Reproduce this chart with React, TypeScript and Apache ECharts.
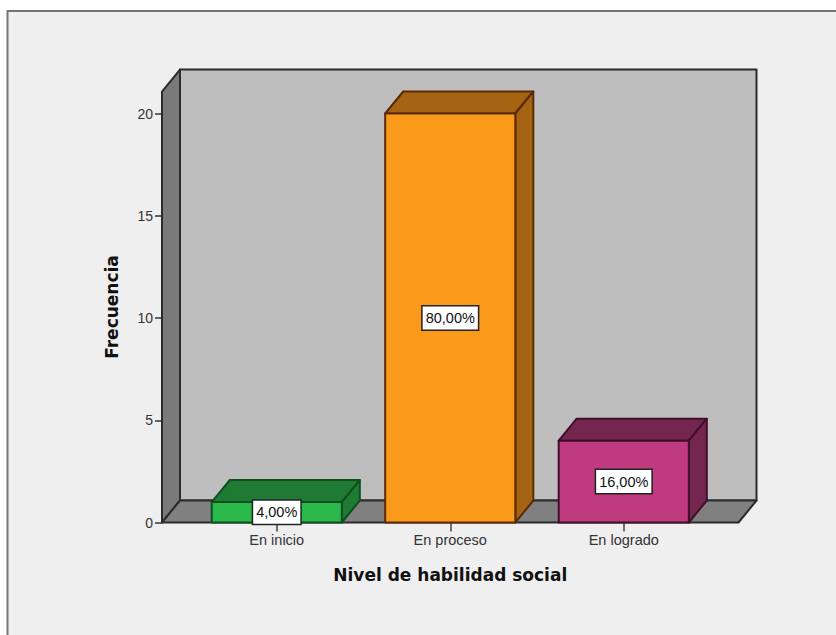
import React, { useEffect, useRef } from "react";
import * as echarts from "echarts";

const categories = ["En inicio", "En proceso", "En logrado"];
const frequencies = [1, 20, 4];
const percentLabels = ["4,00%", "80,00%", "16,00%"];
const wallTopValue = [21.07];
const yAxisMax = 20;
const yAxisInterval = 5;
const xAxisTitle = "Nivel de habilidad social";
const yAxisTitle = "Frecuencia";

const frontColors = ["#2bb84a", "#fb9a1a", "#bf3a7e"];
const shadeColors = ["#1f7a34", "#a46413", "#74264f"];
const edgeColors = ["#0d4f1e", "#5a2a06", "#3f0f2b"];

const DEPTH_X = 18;
const DEPTH_Y = -22;
const FLOOR_OVERHANG = 28;
const EDGE = "#2b2b2b";

function poly(points: number[][], fill: string, stroke: string) {
  return {
    type: "polygon",
    shape: { points },
    style: { fill, stroke, lineWidth: 2, lineJoin: "round" },
  };
}

function renderWalls(params: any, api: any) {
  const cs = params.coordSys;
  const left = cs.x - FLOOR_OVERHANG;
  const right = cs.x + cs.width + FLOOR_OVERHANG;
  const base = api.coord([0, 0])[1];
  const top = api.coord([0, api.value(0)])[1];
  const dx = DEPTH_X;
  const dy = DEPTH_Y;
  return {
    type: "group",
    children: [
      poly([[left + dx, top + dy], [right + dx, top + dy], [right + dx, base + dy], [left + dx, base + dy]], "#bebebe", EDGE),
      poly([[left, top], [left + dx, top + dy], [left + dx, base + dy], [left, base]], "#7a7a7a", EDGE),
      poly([[left, base], [left + dx, base + dy], [right + dx, base + dy], [right, base]], "#808080", EDGE),
    ],
  };
}

function renderBar(params: any, api: any) {
  const i = params.dataIndex;
  const center = api.coord([api.value(0), api.value(1)]);
  const base = api.coord([api.value(0), 0])[1];
  const w = api.size([1, 0])[0] * 0.75;
  const l = center[0] - w / 2;
  const r = center[0] + w / 2;
  const t = center[1];
  const dx = DEPTH_X;
  const dy = DEPTH_Y;
  const stroke = edgeColors[i];
  return {
    type: "group",
    children: [
      poly([[l, t], [l + dx, t + dy], [r + dx, t + dy], [r, t]], shadeColors[i], stroke),
      poly([[r, t], [r + dx, t + dy], [r + dx, base + dy], [r, base]], shadeColors[i], stroke),
      poly([[l, t], [r, t], [r, base], [l, base]], frontColors[i], stroke),
      {
        type: "text",
        x: center[0],
        y: (t + base) / 2,
        z2: 10,
        style: {
          text: percentLabels[i],
          align: "center",
          verticalAlign: "middle",
          fontFamily: "Liberation Sans",
          fontSize: 14.5,
          fill: "#111",
          backgroundColor: "#ffffff",
          borderColor: "#222",
          borderWidth: 1.5,
          padding: [4, 3, 4, 3],
        },
      },
    ],
  };
}

export default function App() {
  const ref = useRef<HTMLDivElement>(null);
  useEffect(() => {
    document.body.style.margin = "0";
    const chart = echarts.init(ref.current!, undefined, { renderer: "svg" });
    chart.setOption({
      animation: false,
      backgroundColor: "#ffffff",
      graphic: [
        {
          type: "rect",
          z: -5,
          silent: true,
          shape: { x: 7.5, y: 11, width: 840, height: 640 },
          style: { fill: "#efefef", stroke: "#757575", lineWidth: 2 },
        },
      ],
      grid: { left: 190, top: 113.5, width: 520.5, height: 409 },
      xAxis: {
        type: "category",
        data: categories,
        axisLine: { show: false },
        axisTick: { show: true, alignWithLabel: true, length: 9, lineStyle: { color: "#444", width: 1.5 } },
        axisLabel: { margin: 10, fontFamily: "Liberation Sans", fontSize: 14.5, color: "#333" },
        name: xAxisTitle,
        nameLocation: "middle",
        nameGap: 44,
        nameTextStyle: { fontFamily: "DejaVu Sans", fontWeight: "bold", fontSize: 17, color: "#111" },
      },
      yAxis: {
        type: "value",
        min: 0,
        max: yAxisMax,
        interval: yAxisInterval,
        offset: 28,
        splitLine: { show: false },
        axisLine: { show: false },
        axisTick: { show: true, length: 7, lineStyle: { color: "#333", width: 1.5 } },
        axisLabel: { margin: 9, fontFamily: "Liberation Sans", fontSize: 14, color: "#333" },
        name: yAxisTitle,
        nameLocation: "middle",
        nameGap: 42,
        nameRotate: 90,
        nameTextStyle: { fontFamily: "DejaVu Sans", fontWeight: "bold", fontSize: 17, color: "#111", padding: [0, 0, 0, 22] },
      },
      series: [
        {
          type: "custom",
          z: 1,
          silent: true,
          coordinateSystem: "cartesian2d",
          renderItem: renderWalls,
          encode: { y: 0 },
          data: wallTopValue.map((v) => [v]),
        },
        {
          type: "custom",
          z: 2,
          silent: true,
          coordinateSystem: "cartesian2d",
          renderItem: renderBar,
          encode: { x: 0, y: 1 },
          data: frequencies.map((v, i) => [i, v]),
        },
      ],
    });
    return () => chart.dispose();
  }, []);
  return <div ref={ref} style={{ width: 836, height: 635 }} />;
}
